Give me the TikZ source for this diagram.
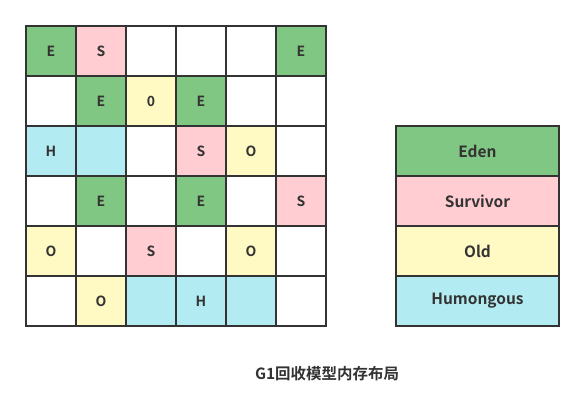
\documentclass[tikz,border=0pt]{standalone}
\usepackage{fontspec}
\setmainfont{Noto Sans CJK SC}[BoldFont={Noto Sans CJK SC Bold}]
\begin{document}
\begin{tikzpicture}[x=0.75pt,y=-0.75pt,
  cell/.style={draw=txt,line width=1.5pt,minimum width=37.5pt,minimum height=37.5pt,inner sep=0pt,anchor=north west,font=\fontsize{10.5}{11}\selectfont\bfseries,text=txt},
  leg/.style={draw=txt,line width=1.5pt,minimum width=122.25pt,minimum height=37.5pt,inner sep=0pt,anchor=north west,font=\fontsize{11.6}{13}\selectfont\bfseries,text=txt},
  E/.style={fill=cgreen},S/.style={fill=cpink},O/.style={fill=cyellow},H/.style={fill=ccyan},W/.style={fill=white}]
\definecolor{txt}{HTML}{333333}
\definecolor{cgreen}{HTML}{81C784}
\definecolor{cpink}{HTML}{FFCDD2}
\definecolor{cyellow}{HTML}{FFF9C4}
\definecolor{ccyan}{HTML}{B2EBF2}
\useasboundingbox (0,0) rectangle (583,419);
% grid: row, col, style, text
\foreach \r/\c/\s/\t in {
 1/1/E/E,1/2/S/S,1/3/W/,1/4/W/,1/5/W/,1/6/E/E,
 2/1/W/,2/2/E/E,2/3/O/0,2/4/E/E,2/5/W/,2/6/W/,
 3/1/H/H,3/2/H/,3/3/W/,3/4/S/S,3/5/O/O,3/6/W/,
 4/1/W/,4/2/E/E,4/3/W/,4/4/E/E,4/5/W/,4/6/S/S,
 5/1/O/O,5/2/W/,5/3/S/S,5/4/W/,5/5/O/O,5/6/W/,
 6/1/W/,6/2/O/O,6/3/H/,6/4/H/H,6/5/H/,6/6/W/}{
  \node[cell,\s] (c\r\c) at ({25+50*(\c-1)},{25+50*(\r-1)}) {\t};
}
\node[leg,E] (eden) at (395,125) {Eden};
\node[leg,S] (surv) at (395,175) {Survivor};
\node[leg,O] (old) at (395,225) {Old};
\node[leg,H] (hum) at (395,275) {Humongous};
\node[font=\fontsize{11.6}{13}\selectfont\bfseries,text=txt] (cap) at (327,374) {G1回收模型内存布局};
\end{tikzpicture}
\end{document}
